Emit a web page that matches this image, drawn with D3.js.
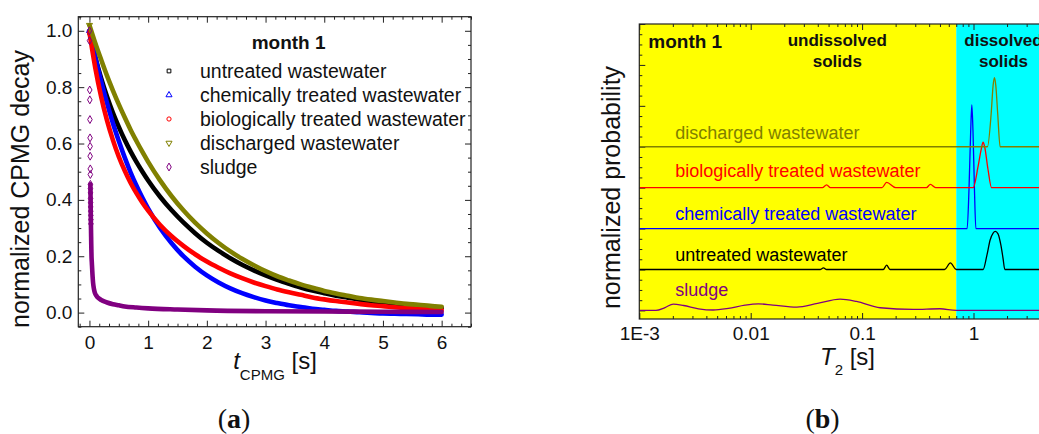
<!DOCTYPE html>
<html>
<head>
<meta charset="utf-8">
<script src="https://cdn.jsdelivr.net/npm/d3@7"></script>
<style>
  html, body { margin: 0; padding: 0; background: #fff; }
  svg { display: block; }
</style>
</head>
<body>
<svg id="fig" width="1039" height="434"></svg>
<script>
// ---------------- Panel (a): normalized CPMG decays ----------------
const decayTime = [0,0.1,0.2,0.3,0.4,0.5,0.6,0.7,0.8,0.9,1.0,1.2,1.4,1.6,1.8,2.0,2.2,2.4,2.6,2.8,
  3.0,3.2,3.4,3.6,3.8,4.0,4.2,4.4,4.6,4.8,5.0,5.2,5.4,5.6,5.8,6.0];
const untreatedDecay = [0.995,0.906,0.831,0.766,0.709,0.659,0.613,0.572,0.535,0.501,0.469,0.412,0.363,
  0.320,0.282,0.248,0.219,0.193,0.170,0.150,0.132,0.116,0.102,0.089,0.078,0.069,0.060,0.053,0.046,
  0.040,0.035,0.030,0.026,0.022,0.019,0.016];
const chemicalDecay = [1.000,0.906,0.820,0.743,0.672,0.609,0.551,0.498,0.451,0.408,0.369,0.301,0.246,
  0.200,0.163,0.132,0.107,0.086,0.069,0.055,0.043,0.034,0.026,0.020,0.014,0.010,0.006,0.004,0.001,
  -0.001,-0.003,-0.004,-0.005,-0.006,-0.007,-0.007];
const biologicalDecay = [0.994,0.868,0.765,0.681,0.612,0.553,0.504,0.461,0.424,0.391,0.362,0.312,0.271,
  0.237,0.207,0.181,0.159,0.139,0.122,0.107,0.094,0.082,0.072,0.063,0.054,0.047,0.041,0.036,0.031,
  0.026,0.023,0.019,0.016,0.014,0.011,0.009];
const dischargedDecay = [1.020,0.956,0.897,0.840,0.788,0.739,0.693,0.649,0.609,0.571,0.535,0.470,0.413,
  0.363,0.319,0.281,0.247,0.217,0.191,0.168,0.147,0.129,0.114,0.100,0.088,0.077,0.068,0.060,0.052,
  0.046,0.041,0.036,0.031,0.028,0.024,0.021];
const sludgeTime = [0,0.001,0.005,0.006,0.008,0.010,0.011,0.012,0.014,0.015,0.016,0.017,0.018,0.019,
  0.020,0.021,0.022,0.023,0.024,0.025,0.026,0.027,0.028,0.029,0.030,0.031,0.032,0.033,0.034,0.035,
  0.037,0.039,0.041,0.043,0.045,0.048,0.051,0.054,0.057,0.060,0.065,0.070,0.080,0.090,0.100,0.125,
  0.150,0.200,0.250,0.300,0.400,0.500,0.600,0.800,1.0,1.5,2.0,3.0,4.0,5.0,6.0];
const sludgeDecay = [1.0,0.965,0.79,0.755,0.685,0.62,0.59,0.555,0.51,0.49,0.455,0.44,0.425,0.405,
  0.39,0.375,0.36,0.345,0.33,0.315,0.30,0.29,0.275,0.265,0.25,0.24,0.23,0.22,0.21,0.20,
  0.19,0.183,0.175,0.168,0.16,0.148,0.137,0.127,0.118,0.11,0.1,0.092,0.08,0.072,0.066,0.058,
  0.052,0.045,0.04,0.036,0.03,0.026,0.022,0.018,0.015,0.011,0.008,0.005,0.004,0.003,0.002];

const seriesNames = ["untreated wastewater", "chemically treated wastewater",
  "biologically treated wastewater", "discharged wastewater", "sludge"];
const seriesColors = ["#000000", "#0000ff", "#ff0000", "#808000", "#800080"];

// ---------------- Panel (b): T2 distributions ----------------
const untreatedT2 = [0.001,0.042,0.045,0.048,0.155,0.166,0.178,0.55,0.62,0.70,1.22,1.32,1.41,1.50,1.57,1.66,1.76,1.84,1.91,10];
const untreatedProb = [0,0,0.04,0,0,0.105,0,0,0.16,0,0,0.35,0.72,0.89,0.93,0.87,0.6,0.28,0,0];
const chemicalT2 = [0.001,0.877,0.912,0.944,0.966,0.989,1.019,1.05,10];
const chemicalProb = [0,0,1.0,2.4,3.02,2.4,1.0,0,0];
const biologicalT2 = [0.001,0.044,0.048,0.052,0.151,0.166,0.20,0.378,0.41,0.457,0.993,1.096,1.175,1.219,1.259,1.349,1.452,10];
const biologicalProb = [0,0,0.07,0,0,0.13,0,0,0.08,0,0,0.5,0.95,1.11,1.0,0.45,0,0];
const dischargedT2 = [0.001,1.334,1.44,1.50,1.542,1.585,1.65,1.734,10];
const dischargedProb = [0,0,0.8,1.5,1.69,1.5,0.8,0,0];
const sludgeT2 = [0.001,0.00141,0.0017,0.00202,0.0025,0.0034,0.0046,0.0063,0.0089,0.0117,0.0158,0.0259,0.0398,0.0634,0.089,0.145,0.288,0.50,0.70,10];
const sludgeProb = [0,0,0.07,0.155,0.12,0.04,0.01,0.05,0.13,0.16,0.13,0.08,0.17,0.275,0.22,0.065,0.025,0.04,0,0];

const xTickLabelsB = ["1E-3", "0.01", "0.1", "1"];
const dissolvedFrom = 0.7;   // T2 [s] where the dissolved-solids region begins

// ------------------------------------------------------------------
const FONT = "'Liberation Sans', Arial, Helvetica, sans-serif";
const SERIF = "'Liberation Serif', 'Times New Roman', serif";
const fig = d3.select("#fig");

function tickAxis(g, gen, scale, values, len, tr, fmt, pad) {
  const ax = gen(scale).tickValues(values).tickSizeInner(-len).tickSizeOuter(0)
    .tickPadding(pad || 0).tickFormat(fmt || (() => ""));
  const sel = g.append("g").attr("transform", tr).call(ax);
  sel.select(".domain").remove();
  sel.selectAll("line").attr("stroke", "#222").attr("stroke-width", 1);
  sel.selectAll("text").attr("font-family", FONT).attr("font-size", 19).attr("fill", "#111");
  return sel;
}

// ===================== panel (a) =====================
const A = { l: 78.3, r: 471, t: 16.7, b: 326.7 };
const xA = d3.scaleLinear().domain([-0.19, 6.5]).range([A.l, A.r]);
const yA = d3.scaleLinear().domain([-0.05, 1.05]).range([A.b, A.t]);
const gA = fig.append("g");

gA.append("clipPath").attr("id", "clipA").append("rect")
  .attr("x", A.l).attr("y", A.t).attr("width", A.r - A.l).attr("height", A.b - A.t);

const majorXA = d3.range(0, 7);
const minorXA = d3.range(-1, 40).filter(k => k % 6 !== 0).map(k => k / 6).filter(v => v >= -0.19 && v <= 6.5);
const majorYA = d3.range(0, 6).map(i => i * 0.2);
const minorYA = d3.range(-1, 22).filter(i => i % 4 !== 0).map(i => i * 0.05);

tickAxis(gA, d3.axisBottom, xA, minorXA, 3, `translate(0,${A.b})`);
tickAxis(gA, d3.axisTop, xA, minorXA, 3, `translate(0,${A.t})`);
tickAxis(gA, d3.axisLeft, yA, minorYA, 3, `translate(${A.l},0)`);
tickAxis(gA, d3.axisRight, yA, minorYA, 3, `translate(${A.r},0)`);
tickAxis(gA, d3.axisBottom, xA, majorXA, 6, `translate(0,${A.b})`, d3.format("d"), 9);
tickAxis(gA, d3.axisTop, xA, majorXA, 6, `translate(0,${A.t})`);
tickAxis(gA, d3.axisLeft, yA, majorYA, 6, `translate(${A.l},0)`, d3.format(".1f"), 6);
tickAxis(gA, d3.axisRight, yA, majorYA, 6, `translate(${A.r},0)`);

const symbolTypes = [d3.symbolSquare, d3.symbolTriangle, d3.symbolCircle, d3.symbolTriangle, d3.symbolDiamond];
const symbolTurn = [0, 0, 0, 180, 0];
const symbolSizes = [14, 16, 14, 16, 18];

const decaySeries = [
  d3.zip(decayTime, untreatedDecay),
  d3.zip(decayTime, chemicalDecay),
  d3.zip(decayTime, biologicalDecay),
  d3.zip(decayTime, dischargedDecay),
  d3.zip(sludgeTime, sludgeDecay)
];

const lineA = d3.line().x(d => xA(d[0])).y(d => yA(d[1])).curve(d3.curveMonotoneX);
const plotA = gA.append("g").attr("clip-path", "url(#clipA)");

decaySeries.forEach((pts, i) => {
  const isSludge = i === 4;
  // closely spaced echoes merge into a solid band
  const dense = isSludge ? pts.filter(d => d[1] <= 0.47) : pts;
  plotA.append("path").datum(dense)
    .attr("d", lineA).attr("fill", "none")
    .attr("stroke", seriesColors[i]).attr("stroke-width", 4.6)
    .attr("stroke-linejoin", "round").attr("stroke-linecap", "round");
  // individual echoes stay visible only where the sludge signal drops fastest
  const sparse = isSludge ? pts.filter(d => d[1] > 0.3) : pts.slice(0, 1);
  plotA.append("g").selectAll("path").data(sparse).join("path")
    .attr("d", d3.symbol().type(symbolTypes[i]).size(symbolSizes[i]))
    .attr("transform", d => `translate(${xA(d[0])},${yA(d[1])}) rotate(${symbolTurn[i]})`)
    .attr("fill", "none").attr("stroke", seriesColors[i]).attr("stroke-width", 1);
});

gA.append("rect").attr("x", A.l).attr("y", A.t).attr("width", A.r - A.l).attr("height", A.b - A.t)
  .attr("fill", "none").attr("stroke", "#222").attr("stroke-width", 1.2);

// legend
gA.append("text").attr("x", 251.7).attr("y", 49).attr("font-family", FONT)
  .attr("font-size", 19).attr("font-weight", "bold").attr("fill", "#111").text("month 1");
const legendRowY = i => 71 + i * 24;
seriesNames.forEach((name, i) => {
  gA.append("path")
    .attr("d", d3.symbol().type(symbolTypes[i]).size(symbolSizes[i])())
    .attr("transform", `translate(169,${legendRowY(i)}) rotate(${symbolTurn[i]})`)
    .attr("fill", "none").attr("stroke", seriesColors[i]).attr("stroke-width", 1);
  gA.append("text").attr("x", 200).attr("y", legendRowY(i) + 7)
    .attr("font-family", FONT).attr("font-size", 19.5).attr("fill", "#111").text(name);
});

// axis titles
gA.append("text").attr("transform", "translate(29,189) rotate(-90)")
  .attr("text-anchor", "middle").attr("font-family", FONT).attr("font-size", 25)
  .attr("fill", "#111").text("normalized CPMG decay");
const xtA = gA.append("text").attr("x", 275).attr("y", 369).attr("text-anchor", "middle")
  .attr("font-family", FONT).attr("font-size", 24).attr("fill", "#111");
xtA.append("tspan").attr("font-style", "italic").text("t");
xtA.append("tspan").attr("font-size", 15).attr("dy", 11).text("CPMG");
xtA.append("tspan").attr("dy", -11).text(" [s]");

const capA = fig.append("text").attr("x", 234).attr("y", 428).attr("text-anchor", "middle")
  .attr("font-family", SERIF).attr("font-size", 28).attr("fill", "#111");
capA.append("tspan").text("(");
capA.append("tspan").attr("font-weight", "bold").text("a");
capA.append("tspan").text(")");

// ===================== panel (b) =====================
const B = { l: 639.3, r: 1084.9, t: 24, b: 319 };
const xB = d3.scaleLog().domain([1e-3, 10]).range([B.l, B.r]);
const yB = d3.scaleLinear().domain([-0.21, 7]).range([B.b, B.t]);
const gB = fig.append("g");

gB.append("clipPath").attr("id", "clipB").append("rect")
  .attr("x", B.l).attr("y", B.t).attr("width", B.r - B.l).attr("height", B.b - B.t);

gB.append("rect").attr("x", xB(1e-3)).attr("y", B.t)
  .attr("width", xB(dissolvedFrom) - xB(1e-3)).attr("height", B.b - B.t).attr("fill", "#ffff00");
gB.append("rect").attr("x", xB(dissolvedFrom)).attr("y", B.t)
  .attr("width", xB(10) - xB(dissolvedFrom)).attr("height", B.b - B.t).attr("fill", "#00ffff");

const decades = [1e-3, 1e-2, 1e-1, 1, 10];
const minorXB = d3.merge(decades.slice(0, 4).map(d => d3.range(2, 10).map(m => d * m)));
const majorYB = d3.range(0, 8);
const minorYB = d3.range(0, 28).filter(k => k % 4 !== 0).map(k => k * 0.25);

tickAxis(gB, d3.axisBottom, xB, minorXB, 3, `translate(0,${B.b})`);
tickAxis(gB, d3.axisTop, xB, minorXB, 3, `translate(0,${B.t})`);
tickAxis(gB, d3.axisLeft, yB, minorYB, 3, `translate(${B.l},0)`);
tickAxis(gB, d3.axisBottom, xB, decades, 6, `translate(0,${B.b})`, (d, i) => xTickLabelsB[i] || "", 8);
tickAxis(gB, d3.axisTop, xB, decades, 6, `translate(0,${B.t})`);
tickAxis(gB, d3.axisLeft, yB, majorYB, 6, `translate(${B.l},0)`);

// stacked distributions: each curve sits one unit above the previous one
const distSeries = [
  { name: seriesNames[4], color: seriesColors[4], pts: d3.zip(sludgeT2, sludgeProb), labelDy: 0.36 },
  { name: seriesNames[0], color: seriesColors[0], pts: d3.zip(untreatedT2, untreatedProb), labelDy: 0.2 },
  { name: seriesNames[1], color: seriesColors[1], pts: d3.zip(chemicalT2, chemicalProb), labelDy: 0.2 },
  { name: seriesNames[2], color: seriesColors[2], pts: d3.zip(biologicalT2, biologicalProb), labelDy: 0.25 },
  { name: seriesNames[3], color: seriesColors[3], pts: d3.zip(dischargedT2, dischargedProb), labelDy: 0.2 }
];

const plotB = gB.append("g").attr("clip-path", "url(#clipB)");
distSeries.forEach((s, k) => {
  const line = d3.line().x(d => xB(d[0])).y(d => yB(k + d[1])).curve(d3.curveMonotoneX);
  plotB.append("path").datum(s.pts).attr("d", line).attr("fill", "none")
    .attr("stroke", s.color).attr("stroke-width", 1.3).attr("stroke-linejoin", "round");
  gB.append("text").attr("x", B.l + 36).attr("y", yB(k + s.labelDy))
    .attr("font-family", FONT).attr("font-size", 18).attr("fill", s.color).text(s.name);
});

gB.append("rect").attr("x", B.l).attr("y", B.t).attr("width", B.r - B.l).attr("height", B.b - B.t)
  .attr("fill", "none").attr("stroke", "#222").attr("stroke-width", 1.2);

// region annotations
gB.append("text").attr("x", 648.3).attr("y", 48.3).attr("font-family", FONT)
  .attr("font-size", 19).attr("font-weight", "bold").attr("fill", "#111").text("month 1");
[["undissolved", 837.3, 46], ["solids", 837.3, 67], ["dissolved", 1003.5, 46], ["solids", 1003.5, 67]]
  .forEach(([t, x, y]) => gB.append("text").attr("x", x).attr("y", y).attr("text-anchor", "middle")
    .attr("font-family", FONT).attr("font-size", 17).attr("font-weight", "bold").attr("fill", "#111").text(t));

gB.append("text").attr("transform", "translate(620,187.5) rotate(-90)")
  .attr("text-anchor", "middle").attr("font-family", FONT).attr("font-size", 25)
  .attr("fill", "#111").text("normalized probability");
const xtB = gB.append("text").attr("x", 847.5).attr("y", 365).attr("text-anchor", "middle")
  .attr("font-family", FONT).attr("font-size", 24).attr("fill", "#111");
xtB.append("tspan").attr("font-style", "italic").text("T");
xtB.append("tspan").attr("font-size", 15).attr("dy", 10).text("2");
xtB.append("tspan").attr("dy", -10).text(" [s]");

const capB = fig.append("text").attr("x", 822.5).attr("y", 428).attr("text-anchor", "middle")
  .attr("font-family", SERIF).attr("font-size", 28).attr("fill", "#111");
capB.append("tspan").text("(");
capB.append("tspan").attr("font-weight", "bold").text("b");
capB.append("tspan").text(")");
</script>
</body>
</html>
